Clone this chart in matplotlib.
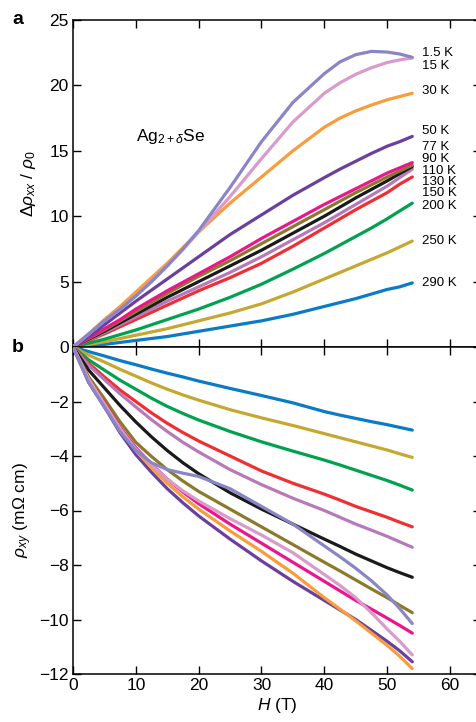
import matplotlib.pyplot as plt

plt.rcParams['font.family'] = ['Liberation Sans', 'DejaVu Sans']
plt.rcParams['mathtext.fontset'] = 'custom'
plt.rcParams['mathtext.rm'] = 'Liberation Sans'
plt.rcParams['mathtext.it'] = 'Liberation Sans:italic'

# field grid (T)
H = [0, 2.5, 5, 7.5, 10, 12.5, 15, 17.5, 20, 25, 30, 35, 40, 42.5, 45, 47.5, 50, 52, 54]

temps = ['1.5 K', '15 K', '30 K', '50 K', '77 K', '90 K', '110 K',
         '130 K', '150 K', '200 K', '250 K', '290 K']
colors = ['#8a86c6', '#d99bcb', '#f89c3c', '#6a3f9e', '#ec168c', '#8c7a2c',
          '#1a1a1a', '#b879b8', '#ee2f33', '#00a14f', '#c6a732', '#0a7bc6']

# panel a: delta rho_xx / rho_0
mr_1p5 = [0, 1.0, 2.0, 2.9, 3.9, 5.0, 6.2, 7.5, 8.9, 12.2, 15.7, 18.7, 20.9, 21.8, 22.35, 22.6, 22.55, 22.4, 22.15]
mr_15 = [0, 1.0, 2.0, 2.9, 3.9, 5.0, 6.2, 7.45, 8.8, 11.5, 14.4, 17.2, 19.4, 20.2, 20.85, 21.35, 21.75, 21.95, 22.1]
mr_30 = [0, 1.0, 2.1, 3.1, 4.2, 5.3, 6.4, 7.6, 8.8, 11.0, 13.0, 15.0, 16.8, 17.5, 18.05, 18.5, 18.9, 19.15, 19.4]
mr_50 = [0, 0.8, 1.7, 2.6, 3.5, 4.35, 5.2, 6.05, 6.9, 8.6, 10.1, 11.6, 12.95, 13.6, 14.2, 14.8, 15.35, 15.7, 16.1]
mr_77 = [0, 0.7, 1.4, 2.1, 2.9, 3.6, 4.3, 4.95, 5.6, 6.9, 8.3, 9.6, 10.9, 11.5, 12.1, 12.7, 13.3, 13.7, 14.1]
mr_90 = [0, 0.65, 1.3, 2.0, 2.7, 3.4, 4.1, 4.75, 5.4, 6.6, 7.9, 9.2, 10.5, 11.15, 11.8, 12.4, 13.0, 13.45, 13.9]
mr_110 = [0, 0.6, 1.2, 1.85, 2.5, 3.15, 3.8, 4.4, 5.0, 6.2, 7.4, 8.7, 10.0, 10.7, 11.4, 12.05, 12.7, 13.25, 13.8]
mr_130 = [0, 0.55, 1.1, 1.7, 2.3, 2.9, 3.5, 4.05, 4.6, 5.7, 6.9, 8.2, 9.5, 10.2, 10.9, 11.6, 12.3, 12.95, 13.6]
mr_150 = [0, 0.5, 1.0, 1.55, 2.1, 2.65, 3.2, 3.75, 4.3, 5.3, 6.4, 7.7, 9.1, 9.8, 10.5, 11.15, 11.8, 12.45, 13.0]
mr_200 = [0, 0.3, 0.6, 0.95, 1.3, 1.7, 2.1, 2.5, 2.9, 3.8, 4.8, 5.95, 7.15, 7.8, 8.45, 9.1, 9.8, 10.4, 11.0]
mr_250 = [0, 0.2, 0.4, 0.65, 0.9, 1.15, 1.4, 1.7, 2.0, 2.6, 3.3, 4.2, 5.2, 5.7, 6.2, 6.7, 7.2, 7.65, 8.1]
mr_290 = [0, 0.1, 0.2, 0.35, 0.5, 0.65, 0.8, 1.0, 1.2, 1.6, 2.0, 2.5, 3.1, 3.4, 3.7, 4.05, 4.4, 4.6, 4.9]

# panel b: rho_xy (mOhm cm)
hall_1p5 = [0, -1.3, -2.2, -3.1, -3.8, -4.25, -4.5, -4.63, -4.75, -5.2, -5.85, -6.5, -7.3, -7.7, -8.12, -8.58, -9.1, -9.6, -10.15]
hall_15 = [0, -1.2, -2.1, -3.0, -3.75, -4.33, -4.85, -5.28, -5.65, -6.3, -6.9, -7.55, -8.35, -8.75, -9.2, -9.75, -10.35, -10.8, -11.3]
hall_30 = [0, -1.2, -2.1, -3.0, -3.8, -4.43, -5.0, -5.5, -5.95, -6.75, -7.5, -8.3, -9.2, -9.62, -10.05, -10.5, -10.95, -11.35, -11.8]
hall_50 = [0, -1.3, -2.2, -3.15, -3.95, -4.6, -5.2, -5.72, -6.2, -7.05, -7.85, -8.6, -9.3, -9.65, -10.0, -10.4, -10.8, -11.15, -11.55]
hall_77 = [0, -1.2, -2.05, -2.95, -3.7, -4.3, -4.85, -5.32, -5.75, -6.5, -7.2, -7.9, -8.6, -8.95, -9.3, -9.62, -9.95, -10.22, -10.5]
hall_90 = [0, -1.1, -1.9, -2.75, -3.5, -4.02, -4.5, -4.92, -5.3, -5.95, -6.6, -7.25, -7.9, -8.22, -8.55, -8.88, -9.2, -9.48, -9.75]
hall_110 = [0, -0.85, -1.5, -2.15, -2.75, -3.3, -3.8, -4.25, -4.65, -5.35, -5.95, -6.5, -7.05, -7.32, -7.6, -7.85, -8.1, -8.28, -8.45]
hall_130 = [0, -0.67, -1.2, -1.72, -2.2, -2.67, -3.1, -3.5, -3.85, -4.5, -5.05, -5.55, -6.0, -6.25, -6.5, -6.72, -6.95, -7.15, -7.35]
hall_150 = [0, -0.6, -1.1, -1.58, -2.0, -2.42, -2.8, -3.14, -3.45, -4.0, -4.55, -5.0, -5.4, -5.62, -5.85, -6.05, -6.25, -6.43, -6.6]
hall_200 = [0, -0.47, -0.85, -1.22, -1.55, -1.88, -2.18, -2.44, -2.68, -3.1, -3.48, -3.82, -4.15, -4.33, -4.52, -4.71, -4.9, -5.07, -5.25]
hall_250 = [0, -0.3, -0.55, -0.82, -1.07, -1.32, -1.55, -1.76, -1.95, -2.3, -2.6, -2.88, -3.18, -3.33, -3.48, -3.63, -3.78, -3.92, -4.05]
hall_290 = [0, -0.17, -0.33, -0.5, -0.65, -0.81, -0.96, -1.1, -1.25, -1.52, -1.78, -2.05, -2.37, -2.5, -2.62, -2.74, -2.85, -2.95, -3.05]

mr_all = [mr_1p5, mr_15, mr_30, mr_50, mr_77, mr_90, mr_110, mr_130,
          mr_150, mr_200, mr_250, mr_290]
hall_all = [hall_1p5, hall_15, hall_30, hall_50, hall_77, hall_90, hall_110,
            hall_130, hall_150, hall_200, hall_250, hall_290]

# label positions (y in panel a units)
label_y = [22.5, 21.5, 19.6, 16.5, 15.3, 14.4, 13.45, 12.6, 11.75, 10.8, 8.1, 4.9]

fig = plt.figure(figsize=(4.76, 7.22), dpi=100)
left, width = 73 / 476, (481.4 - 73) / 476
ax1 = fig.add_axes([left, 1 - 347 / 722, width, (347 - 20) / 722])
ax2 = fig.add_axes([left, 1 - 674 / 722, width, (674 - 347) / 722])

# draw high temperatures first so low-T curves sit on top
for i in range(len(temps) - 1, -1, -1):
    ax1.plot(H, mr_all[i], color=colors[i], lw=2.3, solid_capstyle='round',
             solid_joinstyle='round', zorder=3 + (12 - i) * 0.01)
    ax2.plot(H, hall_all[i], color=colors[i], lw=2.3, solid_capstyle='round',
             solid_joinstyle='round', zorder=3 + (12 - i) * 0.01)

for t, yl in zip(temps, label_y):
    ax1.text(55.6, yl, t, fontsize=9.5, va='center', ha='left')

ax1.text(10, 16.1, r'Ag$_{2+\delta}$Se', fontsize=12.5, va='center', ha='left')

for ax in (ax1, ax2):
    ax.set_xlim(0, 65)
    ax.set_xticks([0, 10, 20, 30, 40, 50, 60])
    ax.tick_params(direction='in', length=6, width=1, top=True, right=True,
                   labelsize=12.5, pad=3)
    for s in ax.spines.values():
        s.set_linewidth(1.1)

ax1.set_ylim(0, 25)
ax1.set_yticks([0, 5, 10, 15, 20, 25])
ax1.tick_params(labelbottom=False)
ax1.set_ylabel(r'$\Delta\rho_{xx}$ / $\rho_0$', fontsize=12.5, labelpad=8)

ax2.set_ylim(-12, 0)
ax2.set_yticks([-12, -10, -8, -6, -4, -2, 0])
ax2.set_yticklabels(['\u221212', '\u221210', '\u22128', '\u22126', '\u22124', '\u22122', ''])
ax2.set_ylabel(r'$\rho_{xy}$ (m$\Omega$ cm)', fontsize=12.5, labelpad=4)
ax2.set_xlabel(r'$H$ (T)', fontsize=12.5, labelpad=2)

fig.text(18 / 476, 1 - 20 / 722, 'a', fontsize=14, fontweight='bold', ha='center', va='center')
fig.text(18 / 476, 1 - 347 / 722, 'b', fontsize=14, fontweight='bold', ha='center', va='center')

fig.savefig('out.png', dpi=100)
